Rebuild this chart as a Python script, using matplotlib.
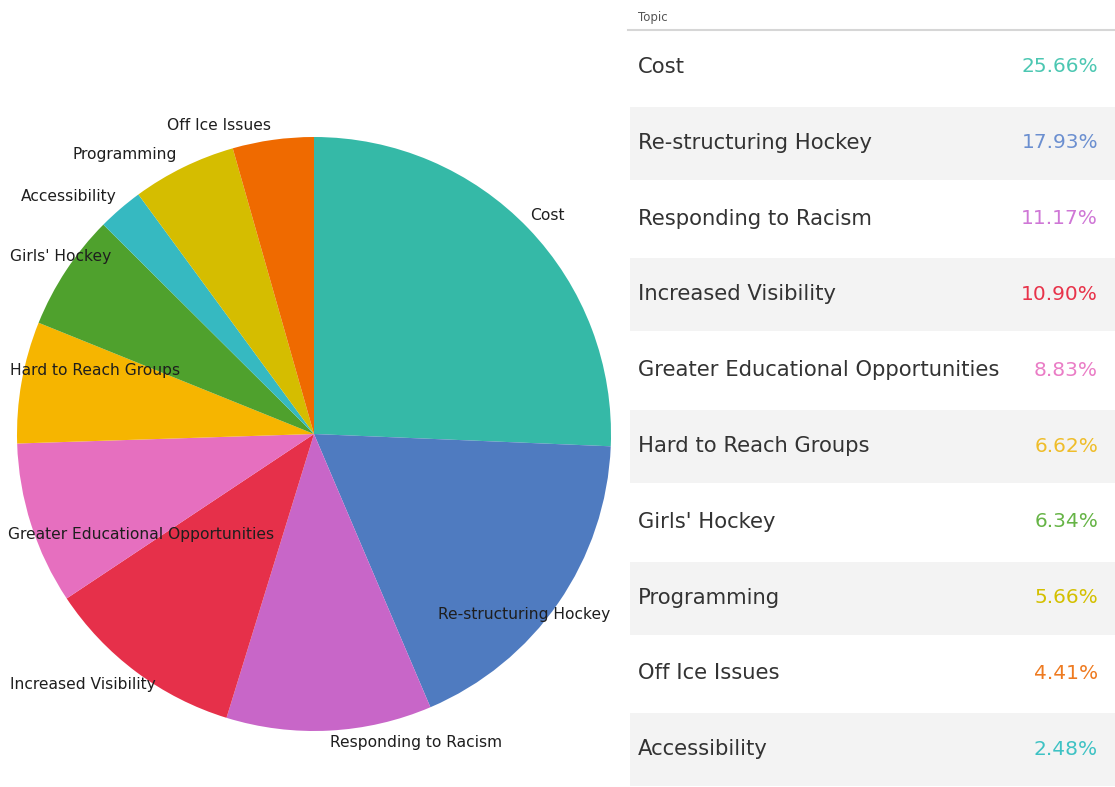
import matplotlib.pyplot as plt
from matplotlib.patches import Rectangle

# data
topics = ["Cost", "Re-structuring Hockey", "Responding to Racism", "Increased Visibility",
          "Greater Educational Opportunities", "Hard to Reach Groups", "Girls' Hockey",
          "Accessibility", "Programming", "Off Ice Issues"]
shares = [25.66, 17.93, 11.17, 10.90, 8.83, 6.62, 6.34, 2.48, 5.66, 4.41]
colors = ["#35b9a7", "#4f7bc0", "#c866c8", "#e6304a", "#e66fbf", "#f6b500",
          "#4fa12d", "#36b9c1", "#d5bd00", "#ef6a00"]
pct_colors = ["#4cc7b2", "#6b8fd0", "#cf77d6", "#e8334a", "#ea7dc6", "#efbd2a",
              "#66b446", "#3ec2c4", "#d4c000", "#ee7a20"]

# table order (sorted by share)
table_order = sorted(range(len(topics)), key=lambda i: -shares[i])

W, H = 1115, 787
fig = plt.figure(figsize=(W / 100, H / 100), dpi=100)
ax = fig.add_axes([0, 0, 1, 1])
ax.set_xlim(0, W)
ax.set_ylim(0, H)
ax.set_aspect("equal")
ax.axis("off")

font = ["DejaVu Sans"]

# pie
ax.pie(shares, colors=colors, startangle=90, counterclock=False,
       center=(314, H - 434), radius=297, wedgeprops=dict(linewidth=0))
ax.set_xlim(0, W)
ax.set_ylim(0, H)

# pie labels (pixel position of left edge / vertical centre)
label_pos = {
    "Cost": (530, 215),
    "Re-structuring Hockey": (438, 615),
    "Responding to Racism": (330, 742),
    "Increased Visibility": (10, 685),
    "Greater Educational Opportunities": (8, 535),
    "Hard to Reach Groups": (10, 370),
    "Girls' Hockey": (10, 257),
    "Accessibility": (21, 196),
    "Programming": (72, 154),
    "Off Ice Issues": (167, 125),
}
for t in topics:
    x, y = label_pos[t]
    ax.text(x, H - y, t, ha="left", va="center", fontsize=11.2,
            family=font, color="#1e1e1e")

# table
ax.text(638, H - 18, "Topic", ha="left", va="center", fontsize=8.5,
        family=font, color="#555555")
ax.plot([628, W], [H - 30, H - 30], color="#d6d6d6", lw=1.5)

row_h = 75.8
first = 67
for k, i in enumerate(table_order):
    yc = first + k * row_h
    if k % 2 == 1:
        ax.add_patch(Rectangle((630, H - yc - 37), W - 630, 73,
                               facecolor="#f3f3f3", edgecolor="none"))
    ax.text(638, H - yc, topics[i], ha="left", va="center", fontsize=15.2,
            family=font, color="#333333")
    ax.text(1098, H - yc, f"{shares[i]:.2f}%", ha="right", va="center",
            fontsize=14.5, family=font, color=pct_colors[i])

fig.savefig("out.png", dpi=100)
